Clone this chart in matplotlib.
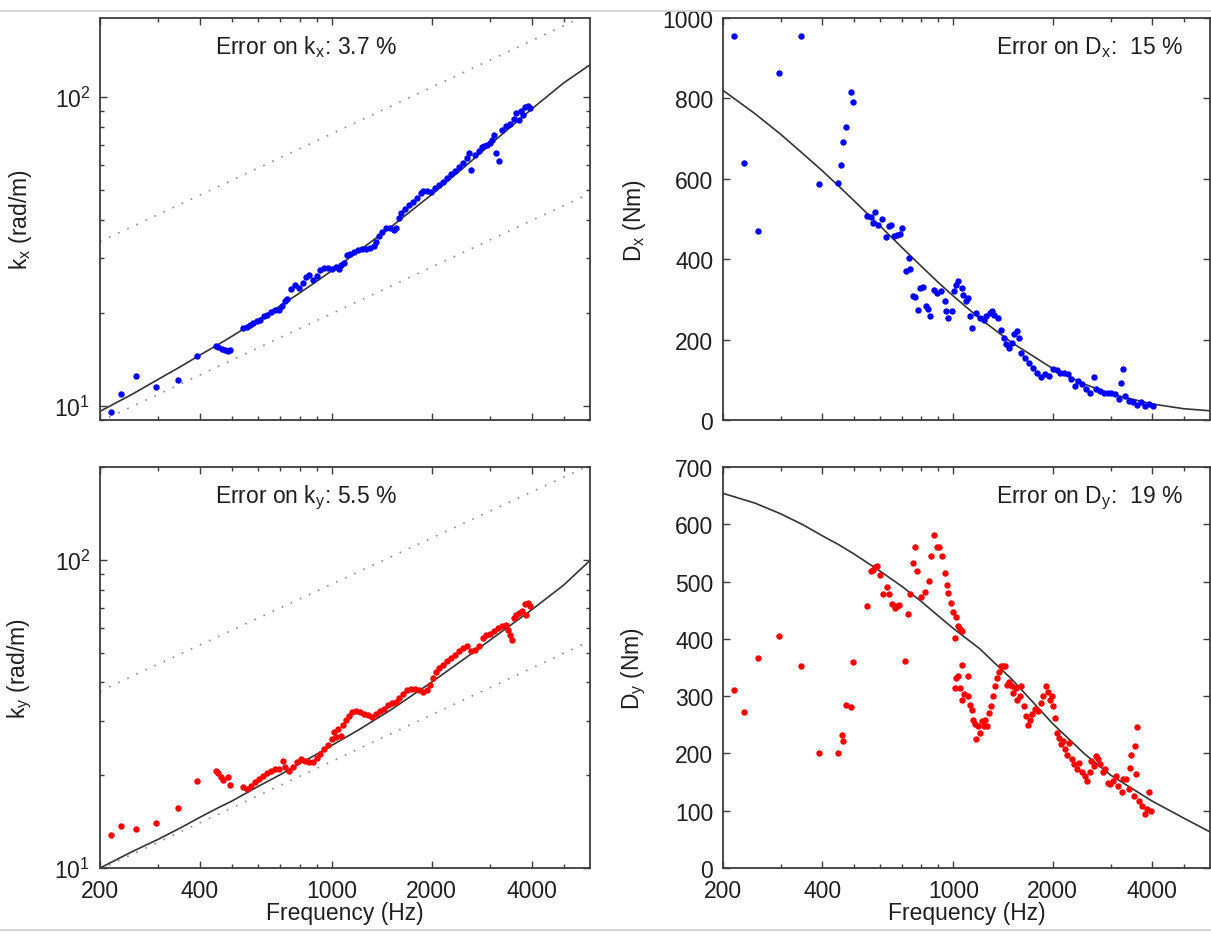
import matplotlib
matplotlib.use('Agg')
import matplotlib.pyplot as plt
from matplotlib.lines import Line2D
from matplotlib.ticker import FixedLocator, NullFormatter, LogLocator

plt.rcParams['font.family'] = ['Liberation Sans', 'DejaVu Sans']
plt.rcParams['mathtext.fontset'] = 'custom'
plt.rcParams['mathtext.rm'] = 'Liberation Sans'
plt.rcParams['mathtext.it'] = 'Liberation Sans'
plt.rcParams['mathtext.default'] = 'regular'

# ---- data ----
fit_freq = [200, 250, 300, 350, 400, 450, 500, 600, 700, 800, 900, 1000, 1200, 1500, 2000, 2500, 3000, 4000, 5000, 6000]
kx_fit = [9.6, 10.9, 12.2, 13.4, 14.6, 15.7, 16.8, 19.0, 21.1, 23.2, 25.3, 27.4, 31.6, 37.8, 48.3, 59.1, 70.1, 91.3, 111, 127]
dx_fit = [820, 762, 710, 662, 620, 581, 545, 482, 428, 382, 342, 308, 253, 193, 128, 89, 65, 40, 28, 23]
ky_fit = [10.0, 11.3, 12.4, 13.5, 14.6, 15.6, 16.5, 18.4, 20.1, 21.8, 23.4, 25.0, 28.0, 32.5, 40.1, 47.6, 54.9, 68.8, 82.8, 99.5]
dy_fit = [654, 637, 618, 599, 580, 564, 548, 518, 491, 465, 440, 418, 383, 330, 252, 199, 162, 117, 87, 63]

bound_freq = [200, 6000]
kx_upper = [34, 186]
kx_lower = [8.9, 48.7]
ky_upper = [37.5, 203]
ky_lower = [9.9, 54.5]

kx_f = [216, 232, 257, 296, 344, 392, 447, 455, 466, 475, 485, 494, 541, 556, 567, 580, 596, 609, 626, 638,
        656, 674, 693, 706, 722, 732, 752, 773, 795, 817, 833, 851, 875, 899, 924, 950, 976, 1003, 1031, 1054,
        1066, 1089, 1114, 1135, 1167, 1199, 1233, 1267, 1302, 1338, 1357, 1387, 1414, 1453, 1493, 1535, 1556,
        1590, 1621, 1666, 1713, 1760, 1809, 1860, 1885, 1938, 1992, 2047, 2104, 2163, 2223, 2284, 2348, 2413,
        2480, 2549, 2584, 2620, 2693, 2768, 2830, 2884, 2940, 3006, 3046, 3089, 3132, 3193, 3263, 3354, 3447,
        3543, 3592, 3662, 3723, 3764, 3826, 3899, 3954]
kx_val = [9.56, 10.9, 12.5, 11.5, 12.1, 14.5, 15.6, 15.5, 15.3, 15.2, 15.0, 15.2, 17.8, 18.0, 18.3, 18.6, 18.8, 19.0, 19.5, 19.7,
          20.1, 20.4, 20.5, 21.1, 21.9, 22.2, 23.9, 24.7, 24.1, 24.9, 26.1, 26.5, 25.5, 26.3, 27.5, 28.0, 28.0, 27.7, 28.2, 27.8,
          28.5, 28.9, 30.7, 31.1, 31.5, 31.9, 32.1, 32.3, 32.5, 33.0, 34.0, 35.5, 36.6, 37.5, 37.5, 37.1, 37.5,
          40.4, 42.0, 43.4, 44.7, 45.8, 47.2, 48.8, 49.6, 49.7, 49.4, 50.6, 51.9, 53.2, 54.6, 56.2, 57.6, 59.5,
          61.0, 63.3, 65.8, 58.0, 64.9, 66.6, 68.6, 69.1, 70.0, 70.9, 72.7, 75.4, 65.8, 61.8, 78.3, 80.3, 81.7,
          85.0, 88.7, 84.4, 89.8, 87.6, 92.5, 93.3, 92.1]

dx_f = [216, 231, 255, 296, 344, 392, 448, 455, 464, 472, 488, 497, 546, 561, 569, 577, 592, 608, 626, 636,
        648, 660, 674, 689, 698, 717, 731, 738, 756, 767, 780, 790, 810, 828, 839, 851, 873, 889, 915, 940,
        947, 962, 993, 1005, 1018, 1035, 1058, 1070, 1088, 1109, 1125, 1140, 1171, 1203, 1237, 1254, 1289, 1307,
        1332, 1362, 1393, 1420, 1439, 1471, 1500, 1529, 1555, 1584, 1605, 1650, 1696, 1743, 1791, 1841, 1892,
        1944, 1999, 2054, 2111, 2170, 2230, 2279, 2341, 2386, 2452, 2520, 2590, 2662, 2699, 2777, 2853, 2933,
        3014, 3098, 3184, 3228, 3273, 3318, 3411, 3506, 3603, 3703, 3806, 3912, 4021]
dx_val = [956, 639, 469, 862, 956, 588, 590, 635, 691, 730, 816, 790, 508, 505, 491, 518, 485, 500, 456, 483,
          486, 458, 460, 462, 478, 371, 402, 375, 309, 307, 274, 328, 330, 283, 275, 258, 324, 316, 320, 295,
          270, 254, 272, 320, 336, 346, 328, 312, 295, 303, 258, 229, 266, 254, 250, 258, 266, 270,
          262, 254, 225, 204, 188, 180, 192, 213, 221, 204, 167, 155, 143, 130, 118, 107, 114,
          110, 126, 124, 118, 118, 114, 101, 85, 97, 89, 77, 68, 106, 77, 73, 68, 66,
          68, 64, 52, 93, 126, 60, 48, 44, 38, 44, 35, 41, 35]

ky_f = [216, 232, 257, 296, 344, 392, 447, 455, 463, 471, 485, 494, 541, 556, 572, 588, 604, 621, 638, 656,
        674, 693, 712, 722, 742, 763, 784, 806, 828, 851, 875, 899, 924, 950, 976, 998, 1017, 1031, 1046, 1066,
        1084, 1105, 1126, 1151, 1183, 1216, 1249, 1284, 1319, 1357, 1394, 1433, 1473, 1514, 1556, 1599, 1644,
        1690, 1737, 1785, 1835, 1885, 1938, 1981, 2019, 2058, 2104, 2163, 2223, 2284, 2348, 2413, 2480, 2549,
        2620, 2693, 2768, 2846, 2924, 3006, 3089, 3175, 3263, 3354, 3400, 3447, 3495, 3543, 3592, 3662, 3744,
        3826, 3849, 3899, 3954]
ky_val = [12.8, 13.7, 13.4, 14.0, 15.6, 19.1, 20.6, 20.3, 19.8, 19.3, 19.7, 18.6, 18.3, 18.1, 18.5, 19.0, 19.4, 19.9, 20.3, 20.7,
          20.9, 21.0, 22.3, 21.2, 20.7, 21.2, 22.0, 22.5, 22.3, 22.0, 22.1, 22.7, 23.5, 24.4, 25.0, 26.3, 27.6, 26.6, 28.3, 26.9,
          29.0, 30.2, 31.2, 32.1, 32.3, 32.1, 31.7, 31.3, 30.9, 31.7, 32.3, 32.9, 33.8, 34.2, 34.6, 35.7, 36.6,
          37.8, 38.1, 38.1, 37.8, 37.3, 37.8, 39.2, 41.3, 43.4, 44.5, 45.6, 46.8, 48.0, 49.2, 50.7, 51.7, 52.4,
          50.4, 51.1, 52.4, 55.8, 56.9, 57.5, 58.6, 60.1, 60.9, 61.6, 59.4, 57.2, 55.1, 64.8, 66.4, 67.3, 68.1,
          71.7, 66.4, 72.6, 70.8]

dy_f = [216, 231, 255, 296, 344, 392, 448, 458, 464, 472, 488, 497, 546, 561, 569, 577, 588, 598, 612, 628,
        636, 653, 663, 675, 686, 713, 729, 738, 756, 762, 775, 795, 818, 842, 854, 873, 889, 901, 921, 940,
        953, 962, 985, 995, 1012, 1012, 1020, 1020, 1035, 1035, 1048, 1048, 1058, 1063, 1063, 1077, 1107, 1107,
        1122, 1137, 1146, 1162, 1172, 1184, 1201, 1217, 1234, 1250, 1267, 1285, 1302, 1320, 1338, 1356, 1375,
        1394, 1413, 1432, 1451, 1471, 1504, 1520, 1545, 1562, 1588, 1605, 1632, 1663, 1686, 1709, 1732, 1770,
        1804, 1839, 1869, 1905, 1931, 1957, 1984, 2011, 2038, 2066, 2094, 2123, 2152, 2182, 2212, 2242, 2284,
        2322, 2367, 2399, 2452, 2499, 2547, 2588, 2616, 2674, 2711, 2749, 2786, 2839, 2886, 2942, 2981, 3046,
        3105, 3164, 3234, 3278, 3341, 3415, 3433, 3461, 3528, 3556, 3585, 3605, 3654, 3724, 3806, 3858, 3912, 3966]
dy_val = [311, 273, 366, 405, 352, 201, 200, 232, 222, 285, 281, 359, 457, 519, 520, 525, 528, 511, 478, 491,
          478, 460, 453, 458, 459, 362, 444, 479, 533, 560, 518, 473, 482, 501, 544, 582, 560, 560, 544, 515,
          494, 480, 462, 447, 401, 314, 439, 332, 422, 335, 418, 314, 294, 413, 354, 303, 335, 300,
          284, 275, 259, 251, 225, 248, 236, 256, 248, 259, 248, 271, 282, 300, 317, 332, 343,
          352, 353, 352, 320, 324, 317, 306, 314, 294, 300, 317, 282, 265, 249, 259, 268, 278,
          274, 288, 300, 317, 308, 294, 300, 282, 262, 236, 227, 216, 222, 207, 198, 219, 190,
          181, 172, 184, 167, 161, 152, 167, 187, 178, 196, 190, 181, 167, 172, 149, 146, 152,
          161, 144, 132, 155, 155, 138, 175, 198, 126, 213, 164, 247, 117, 109, 94, 103, 133, 100]

x_major = [200, 400, 1000, 2000, 4000]
x_minor = [300, 500, 600, 700, 800, 900, 3000, 5000]

W, H = 1211, 937
fig = plt.figure(figsize=(W / 100, H / 100), dpi=100)

def px_axes(x0, y_top, w, h):
    return fig.add_axes([x0 / W, 1 - (y_top + h) / H, w / W, h / H])

ax_kx = px_axes(100, 19, 490, 402)
ax_dx = px_axes(723, 19, 487, 402)
ax_ky = px_axes(100, 468, 490, 401)
ax_dy = px_axes(723, 468, 487, 401)

spine_col = '#3c3c3c'
txt_col = '#1e1e1e'
fs = 16.5

def style(ax, bottom_labels):
    ax.set_xscale('log')
    ax.set_xlim(200, 6000)
    ax.xaxis.set_major_locator(FixedLocator(x_major))
    ax.xaxis.set_minor_locator(FixedLocator(x_minor))
    ax.xaxis.set_minor_formatter(NullFormatter())
    if bottom_labels:
        ax.set_xticklabels([str(v) for v in x_major])
        ax.set_xlabel('Frequency (Hz)', fontsize=fs, color=txt_col)
        ax.xaxis.set_label_coords(0.5, -0.083)
    else:
        ax.set_xticklabels([])
    for s in ax.spines.values():
        s.set_color(spine_col)
        s.set_linewidth(1.3)
    ax.tick_params(which='both', direction='in', top=True, right=True,
                   colors=spine_col, labelcolor=txt_col, labelsize=fs, width=1.0)
    ax.tick_params(which='major', length=5)
    ax.tick_params(axis='x', which='major', pad=8)
    ax.tick_params(axis='y', which='major', pad=7)
    ax.tick_params(which='minor', length=3)

fit_kw = dict(color='#333333', lw=1.2)
dot_kw = dict(color='#8a8a8a', lw=1.2, linestyle=(0, (1, 5)))
mk = dict(marker='o', linestyle='', markersize=4.6, markeredgewidth=0)

# k_x
ax = ax_kx
ax.plot(bound_freq, kx_upper, **dot_kw)
ax.plot(bound_freq, kx_lower, **dot_kw)
ax.plot(fit_freq, kx_fit, **fit_kw)
ax.plot(kx_f, kx_val, color='#0000ff', **mk)
ax.set_yscale('log')
ax.set_ylim(9, 180)
ax.yaxis.set_minor_locator(LogLocator(subs=range(2, 10)))
ax.yaxis.set_minor_formatter(NullFormatter())
style(ax, False)
ax.set_ylabel('$k_x$ (rad/m)', fontsize=fs, color=txt_col)
ax.yaxis.set_label_coords(-0.135, 0.5)
ax.text(0.42, 0.93, 'Error on $k_x$: 3.7 %', transform=ax.transAxes,
        ha='center', va='center', fontsize=fs, color=txt_col)

# D_x
ax = ax_dx
ax.plot(fit_freq, dx_fit, **fit_kw)
ax.plot(dx_f, dx_val, color='#0000ff', **mk)
ax.set_ylim(0, 1000)
ax.set_yticks([0, 200, 400, 600, 800, 1000])
style(ax, False)
ax.set_ylabel('$D_x$ (Nm)', fontsize=fs, color=txt_col)
ax.yaxis.set_label_coords(-0.155, 0.5)
ax.text(0.945, 0.93, 'Error on $D_x$:  15 %', transform=ax.transAxes,
        ha='right', va='center', fontsize=fs, color=txt_col)

# k_y
ax = ax_ky
ax.plot(bound_freq, ky_upper, **dot_kw)
ax.plot(bound_freq, ky_lower, **dot_kw)
ax.plot(fit_freq, ky_fit, **fit_kw)
ax.plot(ky_f, ky_val, color='#ff0000', **mk)
ax.set_yscale('log')
ax.set_ylim(10, 200)
ax.yaxis.set_minor_locator(LogLocator(subs=range(2, 10)))
ax.yaxis.set_minor_formatter(NullFormatter())
style(ax, True)
ax.set_ylabel('$k_y$ (rad/m)', fontsize=fs, color=txt_col)
ax.yaxis.set_label_coords(-0.135, 0.5)
ax.text(0.42, 0.925, 'Error on $k_y$: 5.5 %', transform=ax.transAxes,
        ha='center', va='center', fontsize=fs, color=txt_col)

# D_y
ax = ax_dy
ax.plot(fit_freq, dy_fit, **fit_kw)
ax.plot(dy_f, dy_val, color='#ff0000', **mk)
ax.set_ylim(0, 700)
ax.set_yticks(range(0, 701, 100))
style(ax, True)
ax.set_ylabel('$D_y$ (Nm)', fontsize=fs, color=txt_col)
ax.yaxis.set_label_coords(-0.155, 0.5)
ax.text(0.945, 0.925, 'Error on $D_y$:  19 %', transform=ax.transAxes,
        ha='right', va='center', fontsize=fs, color=txt_col)

# thin separator lines of the page
for yy in (12, 931):
    fig.add_artist(Line2D([0, 1], [1 - yy / H, 1 - yy / H], color='#cfcfcf', lw=1.2))

fig.savefig('out.png', dpi=100)
